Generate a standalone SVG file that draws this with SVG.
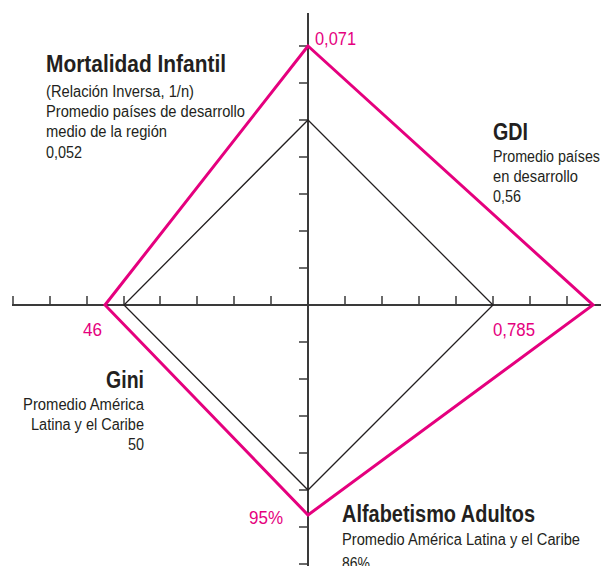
<svg xmlns="http://www.w3.org/2000/svg" width="603" height="566" viewBox="0 0 603 566">
<style>
text{font-family:"Liberation Sans","Arial",sans-serif;fill:#231f20}
.t{font-size:23.5px;font-weight:bold}
.s{font-size:16px}
.v{font-size:17.5px;fill:#e5007e}
.ax{stroke:#3a3a3a;stroke-width:2;fill:none}
.tk{stroke:#3a3a3a;stroke-width:1.5;fill:none}
.pk{stroke:#e5007e;stroke-width:3;fill:none;stroke-linejoin:miter}
.bk{stroke:#231f20;stroke-width:1.3;fill:none}
</style>
<rect width="603" height="566" fill="#ffffff"/>
<g id="axes">
<line class="ax" x1="308" y1="13" x2="308" y2="566"/>
<line class="ax" x1="12" y1="305" x2="601" y2="305"/>
<path class="tk" d="M13,296V305M50,296V305M87,296V305M124,296V305M160,296V305M197,296V305M234,296V305M271,296V305M308,296V305M345,296V305M382,296V305M419,296V305M456,296V305M493,296V305M530,296V305M567,296V305"/>
<path class="tk" d="M299,46H308M299,83H308M299,120H308M299,157H308M299,194H308M299,231H308M299,268H308M299,305H308M299,342H308M299,379H308M299,416H308M299,453H308M299,490H308M299,527H308M299,564H308"/>
</g>
<g id="connectors">
<polygon id="serie-promedio" class="bk" points="308,120 493,305 308,490 124,305"/>
<polygon id="serie-pais" class="pk" points="308,46 593,305 308,515 105,305"/>
</g>
<g id="node-mortalidad">
<text class="t" x="46" y="72" textLength="180" lengthAdjust="spacingAndGlyphs">Mortalidad Infantil</text>
<text class="s" x="46" y="96.5" textLength="148" lengthAdjust="spacingAndGlyphs">(Relación Inversa, 1/n)</text>
<text class="s" x="46" y="117" textLength="199" lengthAdjust="spacingAndGlyphs">Promedio países de desarrollo</text>
<text class="s" x="46" y="137" textLength="121" lengthAdjust="spacingAndGlyphs">medio de la región</text>
<text class="s" x="46" y="157.5" textLength="36" lengthAdjust="spacingAndGlyphs">0,052</text>
<text class="v" x="315" y="44.5" textLength="41" lengthAdjust="spacingAndGlyphs">0,071</text>
</g>
<g id="node-gdi">
<text class="t" x="493" y="139.5" textLength="35" lengthAdjust="spacingAndGlyphs">GDI</text>
<text class="s" x="493" y="162" textLength="107" lengthAdjust="spacingAndGlyphs">Promedio países</text>
<text class="s" x="493" y="182" textLength="85" lengthAdjust="spacingAndGlyphs">en desarrollo</text>
<text class="s" x="493" y="202" textLength="28" lengthAdjust="spacingAndGlyphs">0,56</text>
<text class="v" x="493" y="336" textLength="42" lengthAdjust="spacingAndGlyphs">0,785</text>
</g>
<g id="node-gini">
<text class="t" x="106" y="387.5" textLength="38" lengthAdjust="spacingAndGlyphs">Gini</text>
<text class="s" x="23" y="410" textLength="121" lengthAdjust="spacingAndGlyphs">Promedio América</text>
<text class="s" x="31" y="430" textLength="113" lengthAdjust="spacingAndGlyphs">Latina y el Caribe</text>
<text class="s" x="144" y="450" text-anchor="end" textLength="16" lengthAdjust="spacingAndGlyphs">50</text>
<text class="v" x="83" y="336" textLength="19" lengthAdjust="spacingAndGlyphs">46</text>
</g>
<g id="node-alfabetismo">
<text class="t" x="342" y="522" textLength="193" lengthAdjust="spacingAndGlyphs">Alfabetismo Adultos</text>
<text class="s" x="342" y="544.5" textLength="238" lengthAdjust="spacingAndGlyphs">Promedio América Latina y el Caribe</text>
<text class="s" x="342" y="569" textLength="28" lengthAdjust="spacingAndGlyphs">86%</text>
<text class="v" x="249" y="523.5" textLength="34" lengthAdjust="spacingAndGlyphs">95%</text>
</g>
</svg>
